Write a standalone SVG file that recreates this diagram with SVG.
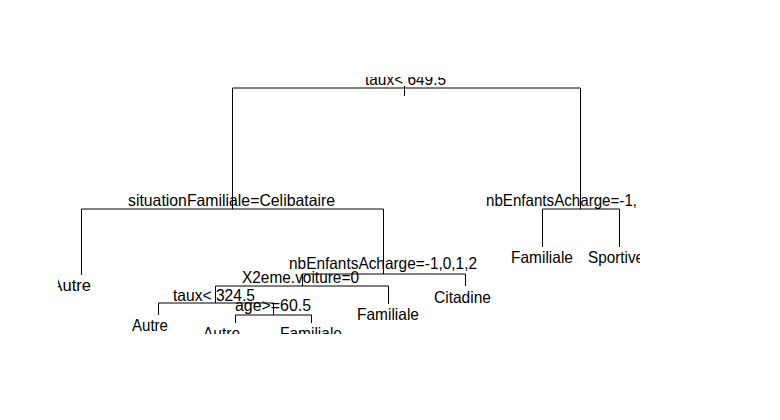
<svg xmlns="http://www.w3.org/2000/svg" width="780" height="420" viewBox="0 0 780 420">
<style>
text{font-family:"Liberation Sans",Arial,sans-serif;font-size:16.5px;fill:#000}
.c line,.c path{stroke:#000;stroke-width:1;fill:none}
</style>
<defs><clipPath id="plot"><rect x="58" y="77" width="582" height="257"/></clipPath></defs>
<rect width="780" height="420" fill="#fff"/>
<g clip-path="url(#plot)">
<g class="c" id="connectors">
<line x1="404.5" y1="86" x2="404.5" y2="96"/>
<path d="M232.5 209V88H580.5V209"/>
<path d="M542.5 247V209H619.5V247"/>
<path d="M81.5 275V209H383.5V274"/>
<path d="M302.5 286V274H465.5V286"/>
<path d="M215.5 303V286H388.5V304"/>
<path d="M158.5 315V303H273.5V315"/>
<path d="M235.5 323V315H311.5V323"/>
</g>
<g id="n1"><text x="365" y="85" textLength="81" lengthAdjust="spacingAndGlyphs">taux&lt; 649.5</text></g>
<g id="n2"><text x="128" y="206" textLength="207" lengthAdjust="spacingAndGlyphs">situationFamiliale=Celibataire</text></g>
<g id="n3"><text x="486" y="206" textLength="151" lengthAdjust="spacingAndGlyphs">nbEnfantsAcharge=-1,</text></g>
<g id="n4"><text x="511" y="263" textLength="62" lengthAdjust="spacingAndGlyphs">Familiale</text></g>
<g id="n5"><text x="588" y="263" textLength="56" lengthAdjust="spacingAndGlyphs">Sportive</text></g>
<g id="n6"><text x="91" y="291" text-anchor="end">Autre</text></g>
<g id="n7"><text x="289" y="269" textLength="188" lengthAdjust="spacingAndGlyphs">nbEnfantsAcharge=-1,0,1,2</text></g>
<g id="n8"><text x="242" y="283" textLength="117" lengthAdjust="spacingAndGlyphs">X2eme.voiture=0</text></g>
<g id="n9"><text x="434" y="303" textLength="57" lengthAdjust="spacingAndGlyphs">Citadine</text></g>
<g id="n10"><text x="173" y="301" textLength="82" lengthAdjust="spacingAndGlyphs">taux&lt; 324.5</text></g>
<g id="n11"><text x="357" y="320" textLength="62" lengthAdjust="spacingAndGlyphs">Familiale</text></g>
<g id="n12"><text x="132" y="331" textLength="36" lengthAdjust="spacingAndGlyphs">Autre</text></g>
<g id="n13"><text x="235" y="311" textLength="76" lengthAdjust="spacingAndGlyphs">age&gt;=60.5</text></g>
<g id="n14"><text x="203" y="339" textLength="37" lengthAdjust="spacingAndGlyphs">Autre</text></g>
<g id="n15"><text x="280" y="339" textLength="62" lengthAdjust="spacingAndGlyphs">Familiale</text></g>
</g>
</svg>
